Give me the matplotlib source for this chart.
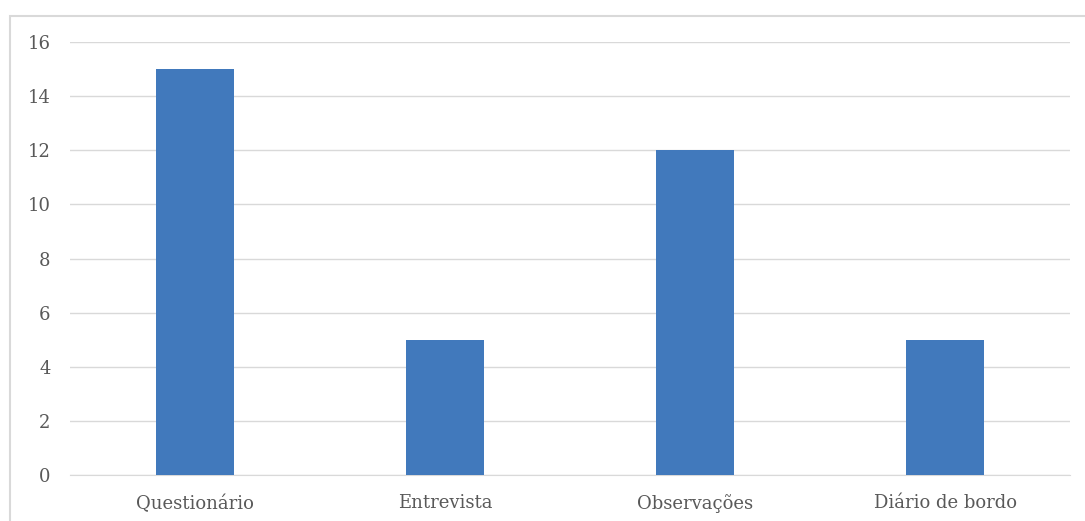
import matplotlib
matplotlib.use('Agg')
import matplotlib.pyplot as plt
from matplotlib.patches import Rectangle

# instrumentos de coleta
categorias = ['Questionário', 'Entrevista', 'Observações', 'Diário de bordo']
valores = [15, 5, 12, 5]
yticks = [0, 2, 4, 6, 8, 10, 12, 14, 16]

plt.rcParams['font.family'] = ['DejaVu Serif', 'Liberation Serif']

fig = plt.figure(figsize=(10.85, 5.21), dpi=100)
ax = fig.add_axes([70/1085, 46/521, 1000/1085, 433/521])

# moldura do gráfico
fig.patches.append(Rectangle((10/1085, -0.05), 1.1, 1 - 16/521 + 0.05,
                             transform=fig.transFigure, fill=False,
                             edgecolor='#d9d9d9', linewidth=1.5))

x = range(len(categorias))
ax.bar(x, valores, width=0.31, color='#4179bc', zorder=3)

ax.set_xlim(-0.5, 3.5)
ax.set_ylim(0, 16)
ax.set_yticks(yticks)
ax.set_xticks(list(x))
ax.set_xticklabels(categorias)
ax.yaxis.grid(True, color='#d9d9d9', linewidth=1, zorder=0)
for s in ['top', 'right', 'left']:
    ax.spines[s].set_visible(False)
ax.spines['bottom'].set_color('#d9d9d9')
ax.tick_params(axis='both', length=0, colors='#595959', labelsize=13)
ax.tick_params(axis='x', pad=14)
ax.tick_params(axis='y', pad=14)

fig.savefig('out.png', dpi=100)
